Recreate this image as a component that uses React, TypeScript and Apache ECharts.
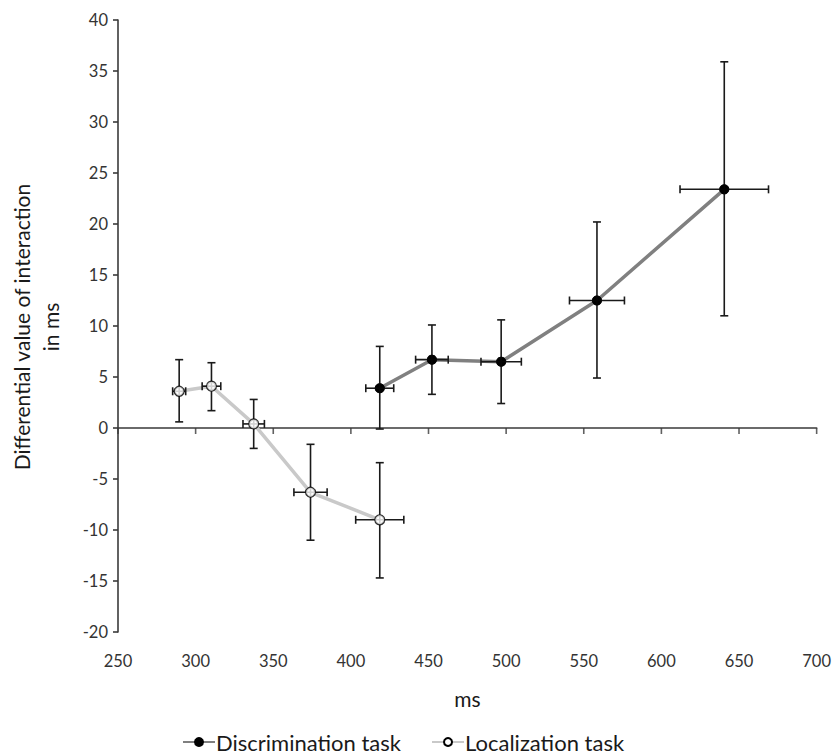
import React, { useEffect, useRef } from "react";
import * as echarts from "echarts";

// Discrimination task: x (ms), y, x error, y low, y high
const discX = [418.6, 452.2, 496.8, 558.5, 640.5];
const discY = [3.9, 6.7, 6.5, 12.5, 23.4];
const discXErr = [9, 10.5, 13, 17.7, 28.5];
const discYLow = [-0.1, 3.3, 2.4, 4.9, 11.0];
const discYHigh = [8.0, 10.1, 10.6, 20.2, 35.9];

// Localization task
const locX = [289.4, 310.2, 337.4, 374, 418.6];
const locY = [3.6, 4.1, 0.4, -6.3, -9.0];
const locXErr = [4.2, 6, 6.9, 10.7, 15.5];
const locYLow = [0.6, 1.7, -2.0, -11.0, -14.7];
const locYHigh = [6.7, 6.4, 2.8, -1.6, -3.4];

const xTicksMin = 250;
const xTicksMax = 700;
const xTicksStep = 50;
const xTickValues = [250, 300, 350, 400, 450, 500, 550, 600, 650, 700];
const yTicksMin = -20;
const yTicksMax = 40;
const yTicksStep = 5;

const FONT = "Lato";
const TXT = "#333333";
const AX = "#3a3a3a";

function pairs(xs: number[], ys: number[]) {
  return xs.map((x, i) => [x, ys[i]]);
}
function errRows(xs: number[], ys: number[], xe: number[], lo: number[], hi: number[]) {
  return xs.map((x, i) => [x, ys[i], xe[i], lo[i], hi[i]]);
}

function renderErr(params: any, api: any) {
  const x = api.value(0);
  const y = api.value(1);
  const xe = api.value(2);
  const lo = api.value(3);
  const hi = api.value(4);
  const c = api.coord([x, y]);
  const top = api.coord([x, hi]);
  const bot = api.coord([x, lo]);
  const left = api.coord([x - xe, y]);
  const right = api.coord([x + xe, y]);
  const cap = 4;
  const st = { stroke: "#1a1a1a", lineWidth: 1.6 };
  return {
    type: "group",
    children: [
      { type: "line", shape: { x1: c[0], y1: top[1], x2: c[0], y2: bot[1] }, style: st },
      { type: "line", shape: { x1: c[0] - cap, y1: top[1], x2: c[0] + cap, y2: top[1] }, style: st },
      { type: "line", shape: { x1: c[0] - cap, y1: bot[1], x2: c[0] + cap, y2: bot[1] }, style: st },
      { type: "line", shape: { x1: left[0], y1: c[1], x2: right[0], y2: c[1] }, style: st },
      { type: "line", shape: { x1: left[0], y1: c[1] - cap, x2: left[0], y2: c[1] + cap }, style: st },
      { type: "line", shape: { x1: right[0], y1: c[1] - cap, x2: right[0], y2: c[1] + cap }, style: st },
    ],
  };
}

export default function App() {
  const ref = useRef<HTMLDivElement>(null);
  useEffect(() => {
    if (!ref.current) return;
    const chart = echarts.init(ref.current, undefined, { renderer: "svg" });
    chart.setOption({
      animation: false,
      backgroundColor: "#ffffff",
      textStyle: { fontFamily: FONT },
      grid: { left: 118, right: 16, top: 20, bottom: 124 },
      legend: {
        bottom: -2,
        left: 177,
        itemWidth: 32,
        itemHeight: 10,
        itemGap: 30,
        data: ["Discrimination task", "Localization task"],
        textStyle: { fontFamily: FONT, fontSize: 22, color: "#1a1a1a", padding: [0, 0, 0, -4] },
      },
      xAxis: [
        {
          type: "value",
          position: "bottom",
          min: xTicksMin,
          max: xTicksMax,
          interval: xTicksStep,
          axisLine: { show: false, onZero: false },
          axisTick: { show: false },
          splitLine: { show: false },
          axisLabel: { fontFamily: FONT, fontSize: 16.5, color: TXT, margin: 20 },
          name: "ms",
          nameLocation: "middle",
          nameGap: 56,
          nameTextStyle: { fontFamily: FONT, fontSize: 21, color: "#1a1a1a" },
        },
        {
          type: "value",
          position: "bottom",
          min: xTicksMin,
          max: xTicksMax,
          interval: xTicksStep,
          axisLine: { show: true, onZero: true, lineStyle: { color: AX, width: 1.6 } },
          axisTick: { show: false },
          splitLine: { show: false },
          axisLabel: { show: false },
        },
      ],
      yAxis: {
        type: "value",
        min: yTicksMin,
        max: yTicksMax,
        interval: yTicksStep,
        axisLine: { show: true, onZero: false, lineStyle: { color: AX, width: 1.6 } },
        axisTick: { show: true, length: 5, lineStyle: { color: AX, width: 1.6 } },
        splitLine: { show: false },
        axisLabel: { fontFamily: FONT, fontSize: 16.5, color: TXT, margin: 10 },
      },
      graphic: [
        {
          type: "text",
          x: 36,
          y: 327,
          rotation: Math.PI / 2,
          style: {
            text: "Differential value of interaction\nin ms",
            fontFamily: FONT,
            fontSize: 21,
            lineHeight: 29,
            fill: "#1a1a1a",
            align: "center",
            verticalAlign: "middle",
          },
        },
      ],
      series: [
        {
          type: "scatter",
          xAxisIndex: 0,
          z: 5,
          silent: true,
          clip: false,
          symbol: "rect",
          symbolSize: [1.6, 6],
          symbolOffset: [0, 3],
          itemStyle: { color: AX },
          data: xTickValues.map((v) => [v, 0]),
        },
        {
          name: "Discrimination task",
          type: "line",
          xAxisIndex: 0,
          data: pairs(discX, discY),
          z: 2,
          symbol: "circle",
          symbolSize: 9,
          lineStyle: { color: "#808080", width: 3.5 },
          itemStyle: { color: "#000000", borderColor: "#000000", borderWidth: 1 },
        },
        {
          name: "Localization task",
          type: "line",
          xAxisIndex: 0,
          data: pairs(locX, locY),
          z: 2,
          symbol: "circle",
          symbolSize: 8,
          lineStyle: { color: "#c9c9c9", width: 3.5 },
          itemStyle: { color: "#ffffff", borderColor: "#000000", borderWidth: 1.2 },
        },
        {
          type: "custom",
          xAxisIndex: 0,
          z: 3,
          renderItem: renderErr,
          data: errRows(discX, discY, discXErr, discYLow, discYHigh),
        },
        {
          type: "custom",
          xAxisIndex: 0,
          z: 3,
          renderItem: renderErr,
          data: errRows(locX, locY, locXErr, locYLow, locYHigh),
        },
        {
          type: "scatter",
          xAxisIndex: 0,
          z: 4,
          data: pairs(discX, discY),
          symbol: "circle",
          symbolSize: 10,
          itemStyle: { color: "#000000" },
        },
        {
          type: "scatter",
          xAxisIndex: 0,
          z: 4,
          data: pairs(locX, locY),
          symbol: "circle",
          symbolSize: 10,
          itemStyle: { color: "#ffffff", borderColor: "#000000", borderWidth: 1.2 },
        },
      ],
    });
    return () => chart.dispose();
  }, []);
  return (
    <div
      ref={ref}
      style={{ position: "absolute", left: 0, top: 0, width: 834, height: 756 }}
    />
  );
}
